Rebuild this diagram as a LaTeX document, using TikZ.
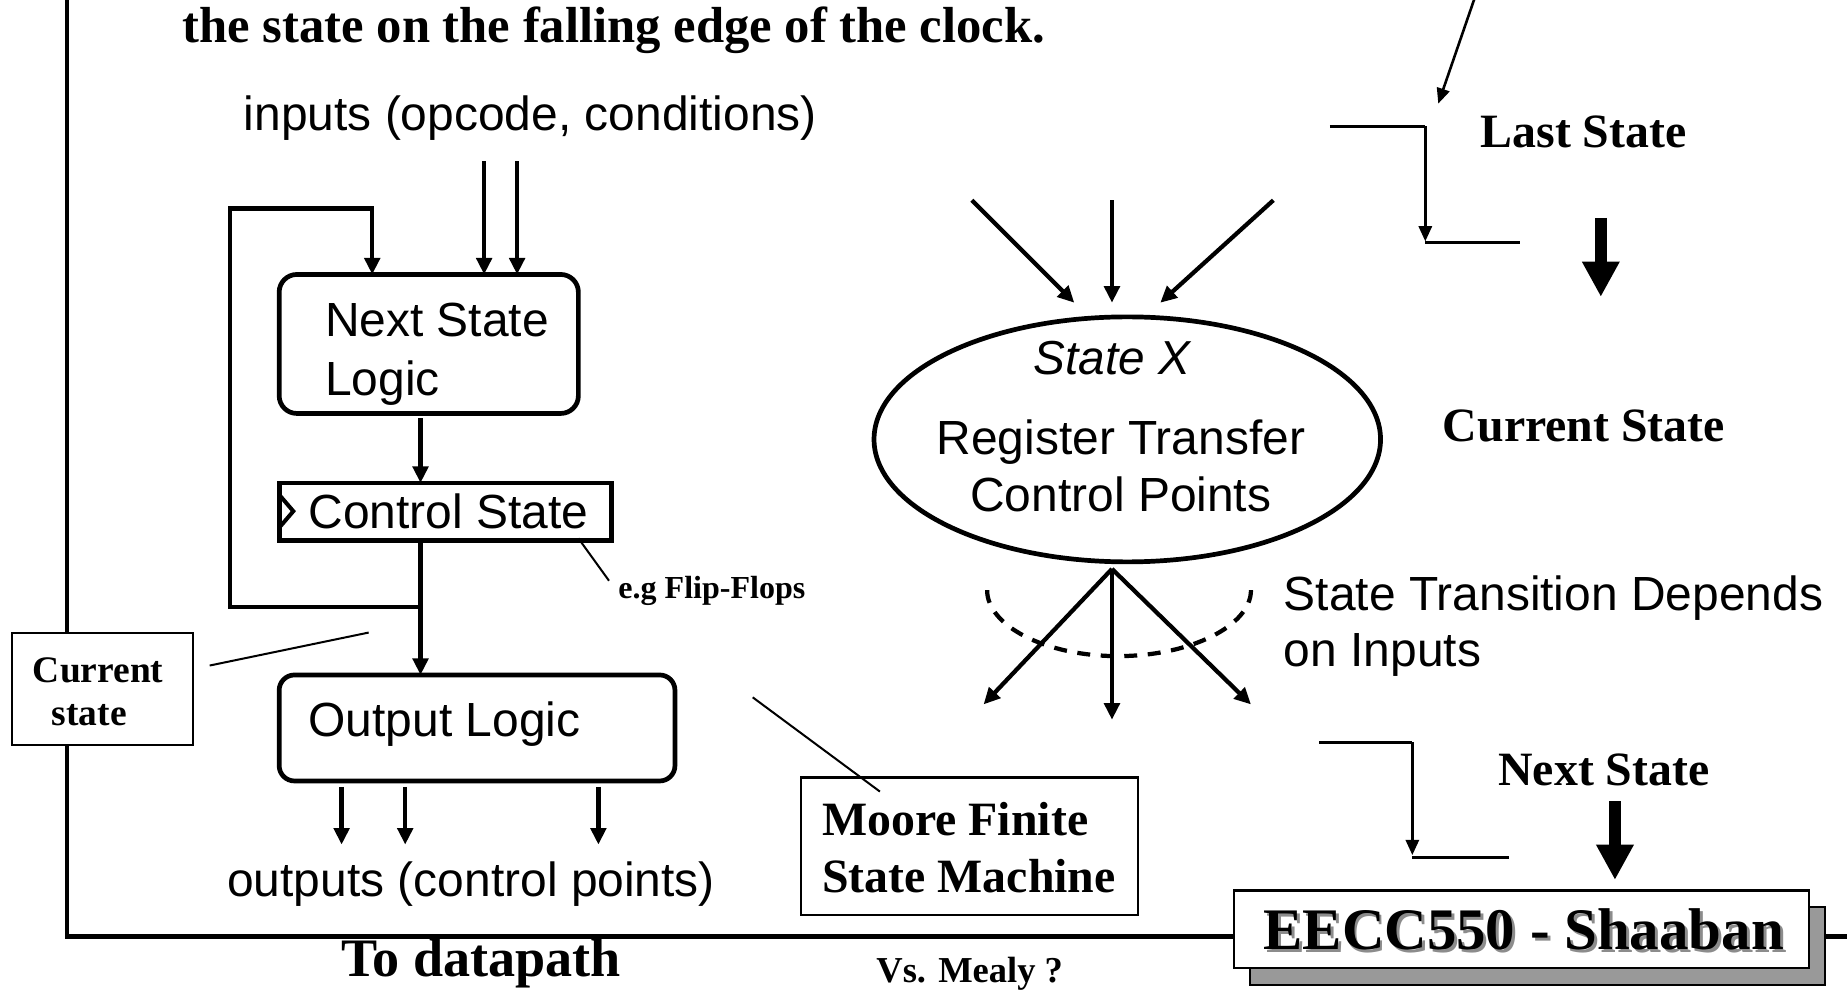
\documentclass[tikz,border=0pt]{standalone}
\usepackage{fontspec}
\setmainfont{Liberation Serif}
\setsansfont{Liberation Sans}
\usetikzlibrary{arrows.meta,shapes.geometric}

\tikzset{
  txt/.style={inner sep=0pt, outer sep=0pt},
  sans/.style={txt, font=\sffamily\fontsize{40.7}{48}\selectfont},
  bold/.style={txt, font=\bfseries\fontsize{40.6}{48}\selectfont},
  arr/.style={line width=3.6pt, -{Triangle[length=14pt,width=13pt]}},
  steparr/.style={line width=2.6pt, -{Triangle[length=13pt,width=11pt]}},
  bigarr/.style={line width=10pt, -{Triangle[length=30pt,width=30pt]}},
  block/.style={draw, line width=4pt, inner sep=0pt, outer sep=0pt, fill=white},
  rblock/.style={block, rounded corners=15pt},
  tag/.style={draw, line width=2pt, inner sep=0pt, outer sep=0pt, fill=white},
  leader/.style={line width=1.7pt},
  rule/.style={line width=4pt},
}

\begin{document}
\begin{tikzpicture}[x=1pt,y=-1pt]
\useasboundingbox (0,0) rectangle (1568,840);

% page frame: left rule and bottom rule
\coordinate (frameTop) at (57,-5);
\coordinate (frameCorner) at (57,795);
\coordinate (frameEnd) at (1575,795);
\draw[rule] (frameTop) -- (frameCorner) -- (frameEnd);

% heading line
\node[txt, font=\bfseries\fontsize{43}{50}\selectfont, anchor=base west] (title) at (155,36)
  {the state on the falling edge of the clock.};

% ---------------- Moore machine block diagram ----------------
\node[sans, anchor=base west] (inputs) at (207,111) {inputs (opcode, conditions)};

\node[rblock, minimum width=254pt, minimum height=118pt] (nsl) at (364,292) {};
\node[sans, anchor=base west] (nslA) at (276,286) {Next State};
\node[sans, anchor=base west] (nslB) at (276,336) {Logic};

\node[block, rounded corners=0pt, minimum width=282pt, minimum height=49pt] (cs) at (378,434.5) {};
\node[sans, anchor=base west] (csT) at (262,449) {Control State};
\coordinate (clkA) at (237,420);
\coordinate (clkB) at (249,434);
\coordinate (clkC) at (237,448);
\draw[line width=3.4pt] (clkA) -- (clkB) -- (clkC);

\node[rblock, rounded corners=13pt, minimum width=336pt, minimum height=90pt] (ol) at (405,618) {};
\node[sans, anchor=base west] (olT) at (262,625) {Output Logic};

% inputs into next state logic
\coordinate (in1) at (411,137);
\coordinate (in2) at (439,137);
\draw[arr] (in1) -- (in1 |- nsl.north);
\draw[arr] (in2) -- (in2 |- nsl.north);

% next state logic -> control state
\coordinate (nsOut) at (357,355);
\draw[arr] (nsOut) -- (nsOut |- cs.north);

% current state fed back and forward
\coordinate (jn) at (357,515);
\coordinate (fbA) at (195,515);
\coordinate (fbB) at (195,177);
\coordinate (fbC) at (316,177);
\draw[line width=3.6pt] (cs.south -| jn) -- (jn);
\draw[arr] (jn) -- (fbA) -- (fbB) -- (fbC) -- (fbC |- nsl.north);
\draw[arr] (jn) -- (jn |- ol.north);

% outputs
\coordinate (out1) at (290,668);
\coordinate (out2) at (344,668);
\coordinate (out3) at (508,668);
\coordinate (out1e) at (290,717);
\coordinate (out2e) at (344,717);
\coordinate (out3e) at (508,717);
\draw[arr] (out1) -- (out1e);
\draw[arr] (out2) -- (out2e);
\draw[arr] (out3) -- (out3e);
\node[sans, anchor=base west] (outputs) at (193,761) {outputs (control points)};

\node[txt, font=\bfseries\fontsize{46}{52}\selectfont, anchor=base] (todp) at (408.5,829) {To datapath};

% flip-flop note
\coordinate (ffA) at (491,457);
\coordinate (ffB) at (517,493);
\draw[leader] (ffA) -- (ffB);
\node[txt, font=\bfseries\fontsize{27.2}{32}\selectfont, anchor=base west] (ff) at (525,508) {e.g Flip-Flops};

% current state tag
\node[tag, minimum width=154pt, minimum height=95pt] (cur) at (87,585) {};
\node[txt, font=\bfseries\fontsize{31.8}{36}\selectfont, anchor=base west] (curA) at (28,579) {Current};
\node[txt, font=\bfseries\fontsize{31.8}{36}\selectfont, anchor=base west] (curB) at (44,615.5) {state};
\coordinate (curL) at (178,565);
\coordinate (curR) at (313,537);
\draw[leader] (curL) -- (curR);

% machine type tag
\node[tag, minimum width=286pt, minimum height=117pt] (moore) at (823,718.5) {};
\node[bold, anchor=base west] (mooreA) at (698,709) {Moore Finite};
\node[bold, anchor=base west] (mooreB) at (698,758) {State Machine};
\coordinate (mlA) at (639,592);
\coordinate (mlB) at (747,672);
\draw[leader] (mlA) -- (mlB);

\node[txt, font=\bfseries\fontsize{31}{36}\selectfont, anchor=base west] (mealy) at (744,834) {Vs. Mealy ?};

% ---------------- state bubble ----------------
\node[draw, ellipse, line width=4pt, inner sep=0pt, minimum width=430pt, minimum height=208pt] (sx) at (957,373) {};
\node[sans, font=\sffamily\itshape\fontsize{40.5}{48}\selectfont, anchor=base] (sxA) at (944,318) {State X};
\node[sans, anchor=base] (sxB) at (951.5,386) {Register Transfer};
\node[sans, anchor=base] (sxC) at (951.5,434) {Control Points};

% incoming transitions
\coordinate (iA) at (825,170);
\coordinate (iB) at (944,170);
\coordinate (iC) at (1081,170);
\coordinate (iAe) at (912,257);
\coordinate (iBe) at (944,257);
\coordinate (iCe) at (985,257);
\draw[arr] (iA) -- (iAe);
\draw[arr] (iB) -- (iBe);
\draw[arr] (iC) -- (iCe);

% outgoing transitions
\coordinate (fan) at (944,483);
\coordinate (oA) at (835,598);
\coordinate (oB) at (944,611);
\coordinate (oC) at (1062,598);
\draw[arr] (fan) -- (oA);
\draw[arr] (fan) -- (oB);
\draw[arr] (fan) -- (oC);

% dashed choice arc
\coordinate (dA) at (838,501);
\coordinate (dB) at (949,557);
\coordinate (dC) at (1062,501);
\draw[line width=3.6pt, dash pattern=on 11pt off 9pt]
  (dA) .. controls (838,531) and (887,557) .. (dB)
       .. controls (1011,557) and (1062,531) .. (dC);

\node[sans, anchor=base west] (stA) at (1090,518) {State Transition Depends};
\node[sans, anchor=base west] (stB) at (1090,566) {on Inputs};

% ---------------- clock-edge timeline ----------------
\coordinate (ptA) at (1252,-2);
\coordinate (ptB) at (1221,88);
\draw[steparr, line width=2.2pt] (ptA) -- (ptB);

\coordinate (s1a) at (1129,107);
\coordinate (s1b) at (1210,107);
\coordinate (s1c) at (1210,205);
\coordinate (s1d) at (1290,206);
\draw[line width=2.6pt] (s1a) -- (s1b);
\draw[steparr] (s1b) -- (s1c);
\draw[line width=2.6pt] (s1c |- s1d) -- (s1d);
\node[bold, anchor=base west] (last) at (1257,125) {Last State};

\coordinate (b1a) at (1359,185);
\coordinate (b1b) at (1359,252);
\draw[bigarr] (b1a) -- (b1b);

\node[bold, anchor=base west] (curS) at (1225,375) {Current State};

\coordinate (s2a) at (1120,630);
\coordinate (s2b) at (1199,630);
\coordinate (s2c) at (1199,726);
\coordinate (s2d) at (1281,728);
\draw[line width=2.6pt] (s2a) -- (s2b);
\draw[steparr] (s2b) -- (s2c);
\draw[line width=2.6pt] (s2c |- s2d) -- (s2d);
\node[bold, anchor=base west] (nextS) at (1272,667) {Next State};

\coordinate (b2a) at (1371,680);
\coordinate (b2b) at (1371,747);
\draw[bigarr] (b2a) -- (b2b);

% ---------------- footer badge ----------------
\node[draw, line width=1.5pt, fill=black!40, inner sep=0pt, minimum width=488pt, minimum height=66pt] (badgeShadow) at (1305,803) {};
\node[draw, line width=2pt, fill=white, inner sep=0pt, minimum width=488pt, minimum height=66pt] (badge) at (1291.5,789) {};
\node[txt, font=\bfseries\fontsize{50}{58}\selectfont, text=black!45, anchor=base] (badgeTs) at (1296,808.5) {EECC550 - Shaaban};
\node[txt, font=\bfseries\fontsize{50}{58}\selectfont, anchor=base] (badgeT) at (1293.5,806) {EECC550 - Shaaban};

\end{tikzpicture}
\end{document}
